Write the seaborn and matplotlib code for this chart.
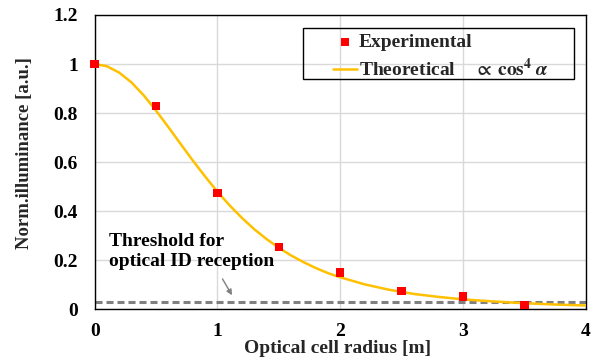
import matplotlib
matplotlib.use("Agg")
import matplotlib.pyplot as plt
from matplotlib.patches import Rectangle
import seaborn as sns
import pandas as pd

# Experimental measurements
exp_radius = [0.0, 0.5, 1.0, 1.5, 2.0, 2.5, 3.0, 3.5]
exp_illum = [1.0, 0.83, 0.473, 0.253, 0.149, 0.075, 0.051, 0.018]

# Theoretical curve
theo_radius = [0.0, 0.1, 0.2, 0.3, 0.4, 0.5, 0.6, 0.7, 0.8, 0.9, 1.0, 1.1, 1.2, 1.3,
               1.4, 1.5, 1.6, 1.7, 1.8, 1.9, 2.0, 2.2, 2.4, 2.6, 2.8, 3.0, 3.2, 3.4,
               3.6, 3.8, 4.0]
theo_illum = [1.0, 0.991, 0.965, 0.925, 0.872, 0.81, 0.743, 0.674, 0.606, 0.541, 0.479,
              0.423, 0.372, 0.326, 0.286, 0.25, 0.219, 0.192, 0.168, 0.147, 0.13, 0.101,
              0.079, 0.062, 0.05, 0.04, 0.033, 0.027, 0.022, 0.018, 0.015]

threshold_x = [0.0, 4.0]
threshold_y = [0.029, 0.029]

x_ticks = [0, 1, 2, 3, 4]
x_tick_labels = ["0", "1", "2", "3", "4"]
y_ticks = [0, 0.2, 0.4, 0.6, 0.8, 1.0, 1.2]
y_tick_labels = ["0", "0.2", "0.4", "0.6", "0.8", "1", "1.2"]

sns.set_theme(style="whitegrid")
plt.rcParams["font.family"] = ["Liberation Serif", "DejaVu Serif"]
plt.rcParams["mathtext.fontset"] = "stix"
plt.rcParams["font.weight"] = "bold"

df_exp = pd.DataFrame({"r": exp_radius, "E": exp_illum})
df_theo = pd.DataFrame({"r": theo_radius, "E": theo_illum})
df_thr = pd.DataFrame({"r": threshold_x, "E": threshold_y})

fig = plt.figure(figsize=(5.99, 3.57), dpi=100)
ax = fig.add_axes([0.158, 0.134, 0.820, 0.824])

sns.lineplot(data=df_thr, x="r", y="E", ax=ax, color="#808080", linewidth=2.2,
             linestyle=(0, (2.3, 1.3)), legend=False, zorder=2)
sns.lineplot(data=df_theo, x="r", y="E", ax=ax, color="#FFC000", linewidth=1.8,
             label="Theoretical    $\\propto\\,\\mathbf{cos}^{4}\\;\\boldsymbol{\\alpha}$", zorder=3)
sns.scatterplot(data=df_exp, x="r", y="E", ax=ax, color="#FF0000", marker="s", s=36,
                edgecolor="none", label="Experimental", zorder=4, clip_on=False)

ax.set_xlim(0, 4)
ax.set_ylim(0, 1.2)
ax.set_xticks(x_ticks)
ax.set_xticklabels(x_tick_labels)
ax.set_yticks(y_ticks)
ax.set_yticklabels(y_tick_labels)
ax.tick_params(axis="x", labelsize=14, length=0, pad=10, colors="black")
ax.tick_params(axis="y", labelsize=14, length=0, pad=12, colors="black")
for lab in ax.get_xticklabels() + ax.get_yticklabels():
    lab.set_fontweight("bold")

ax.set_xlabel("Optical cell radius [m]", fontsize=14, fontweight="bold")
ax.xaxis.set_label_coords(0.495, -0.106)
ax.set_ylabel("Norm.illuminance [a.u.]", fontsize=13.5, fontweight="bold")
ax.yaxis.set_label_coords(-0.125, 0.53)

ax.grid(True, color="#d9d9d9", linewidth=1.0)
ax.set_facecolor("white")
for sp in ax.spines.values():
    sp.set_color("black")
    sp.set_linewidth(1.0)
    sp.set_visible(True)

# legend ordering: Experimental first
handles, labels = ax.get_legend_handles_labels()
ie = labels.index("Experimental")
order = [ie, 1 - ie]
leg = ax.legend([handles[i] for i in order], [labels[i] for i in order],
                loc="upper left", bbox_to_anchor=(0.485, 0.938), borderaxespad=0,
                frameon=False,
                prop={"family": "Liberation Serif", "weight": "bold", "size": 14},
                handlelength=1.25, handletextpad=0.1, borderpad=0, labelspacing=0.35)
ax.add_patch(Rectangle((0.424, 0.783), 0.9756 - 0.424, 0.957 - 0.783,
                       transform=ax.transAxes, fill=False, edgecolor="black",
                       linewidth=1.0, zorder=6, clip_on=False))

ax.annotate("Threshold for\noptical ID reception", xy=(1.14, 0.052), xytext=(0.12, 0.31),
            textcoords="data", fontsize=14, fontweight="bold", ha="left", va="top",
            linespacing=1.25, color="black")
ax.annotate("", xy=(1.13, 0.047), xytext=(1.03, 0.133),
            arrowprops=dict(arrowstyle="-|>", color="#808080", lw=1.0, mutation_scale=8))

fig.savefig("out.png", dpi=100)
